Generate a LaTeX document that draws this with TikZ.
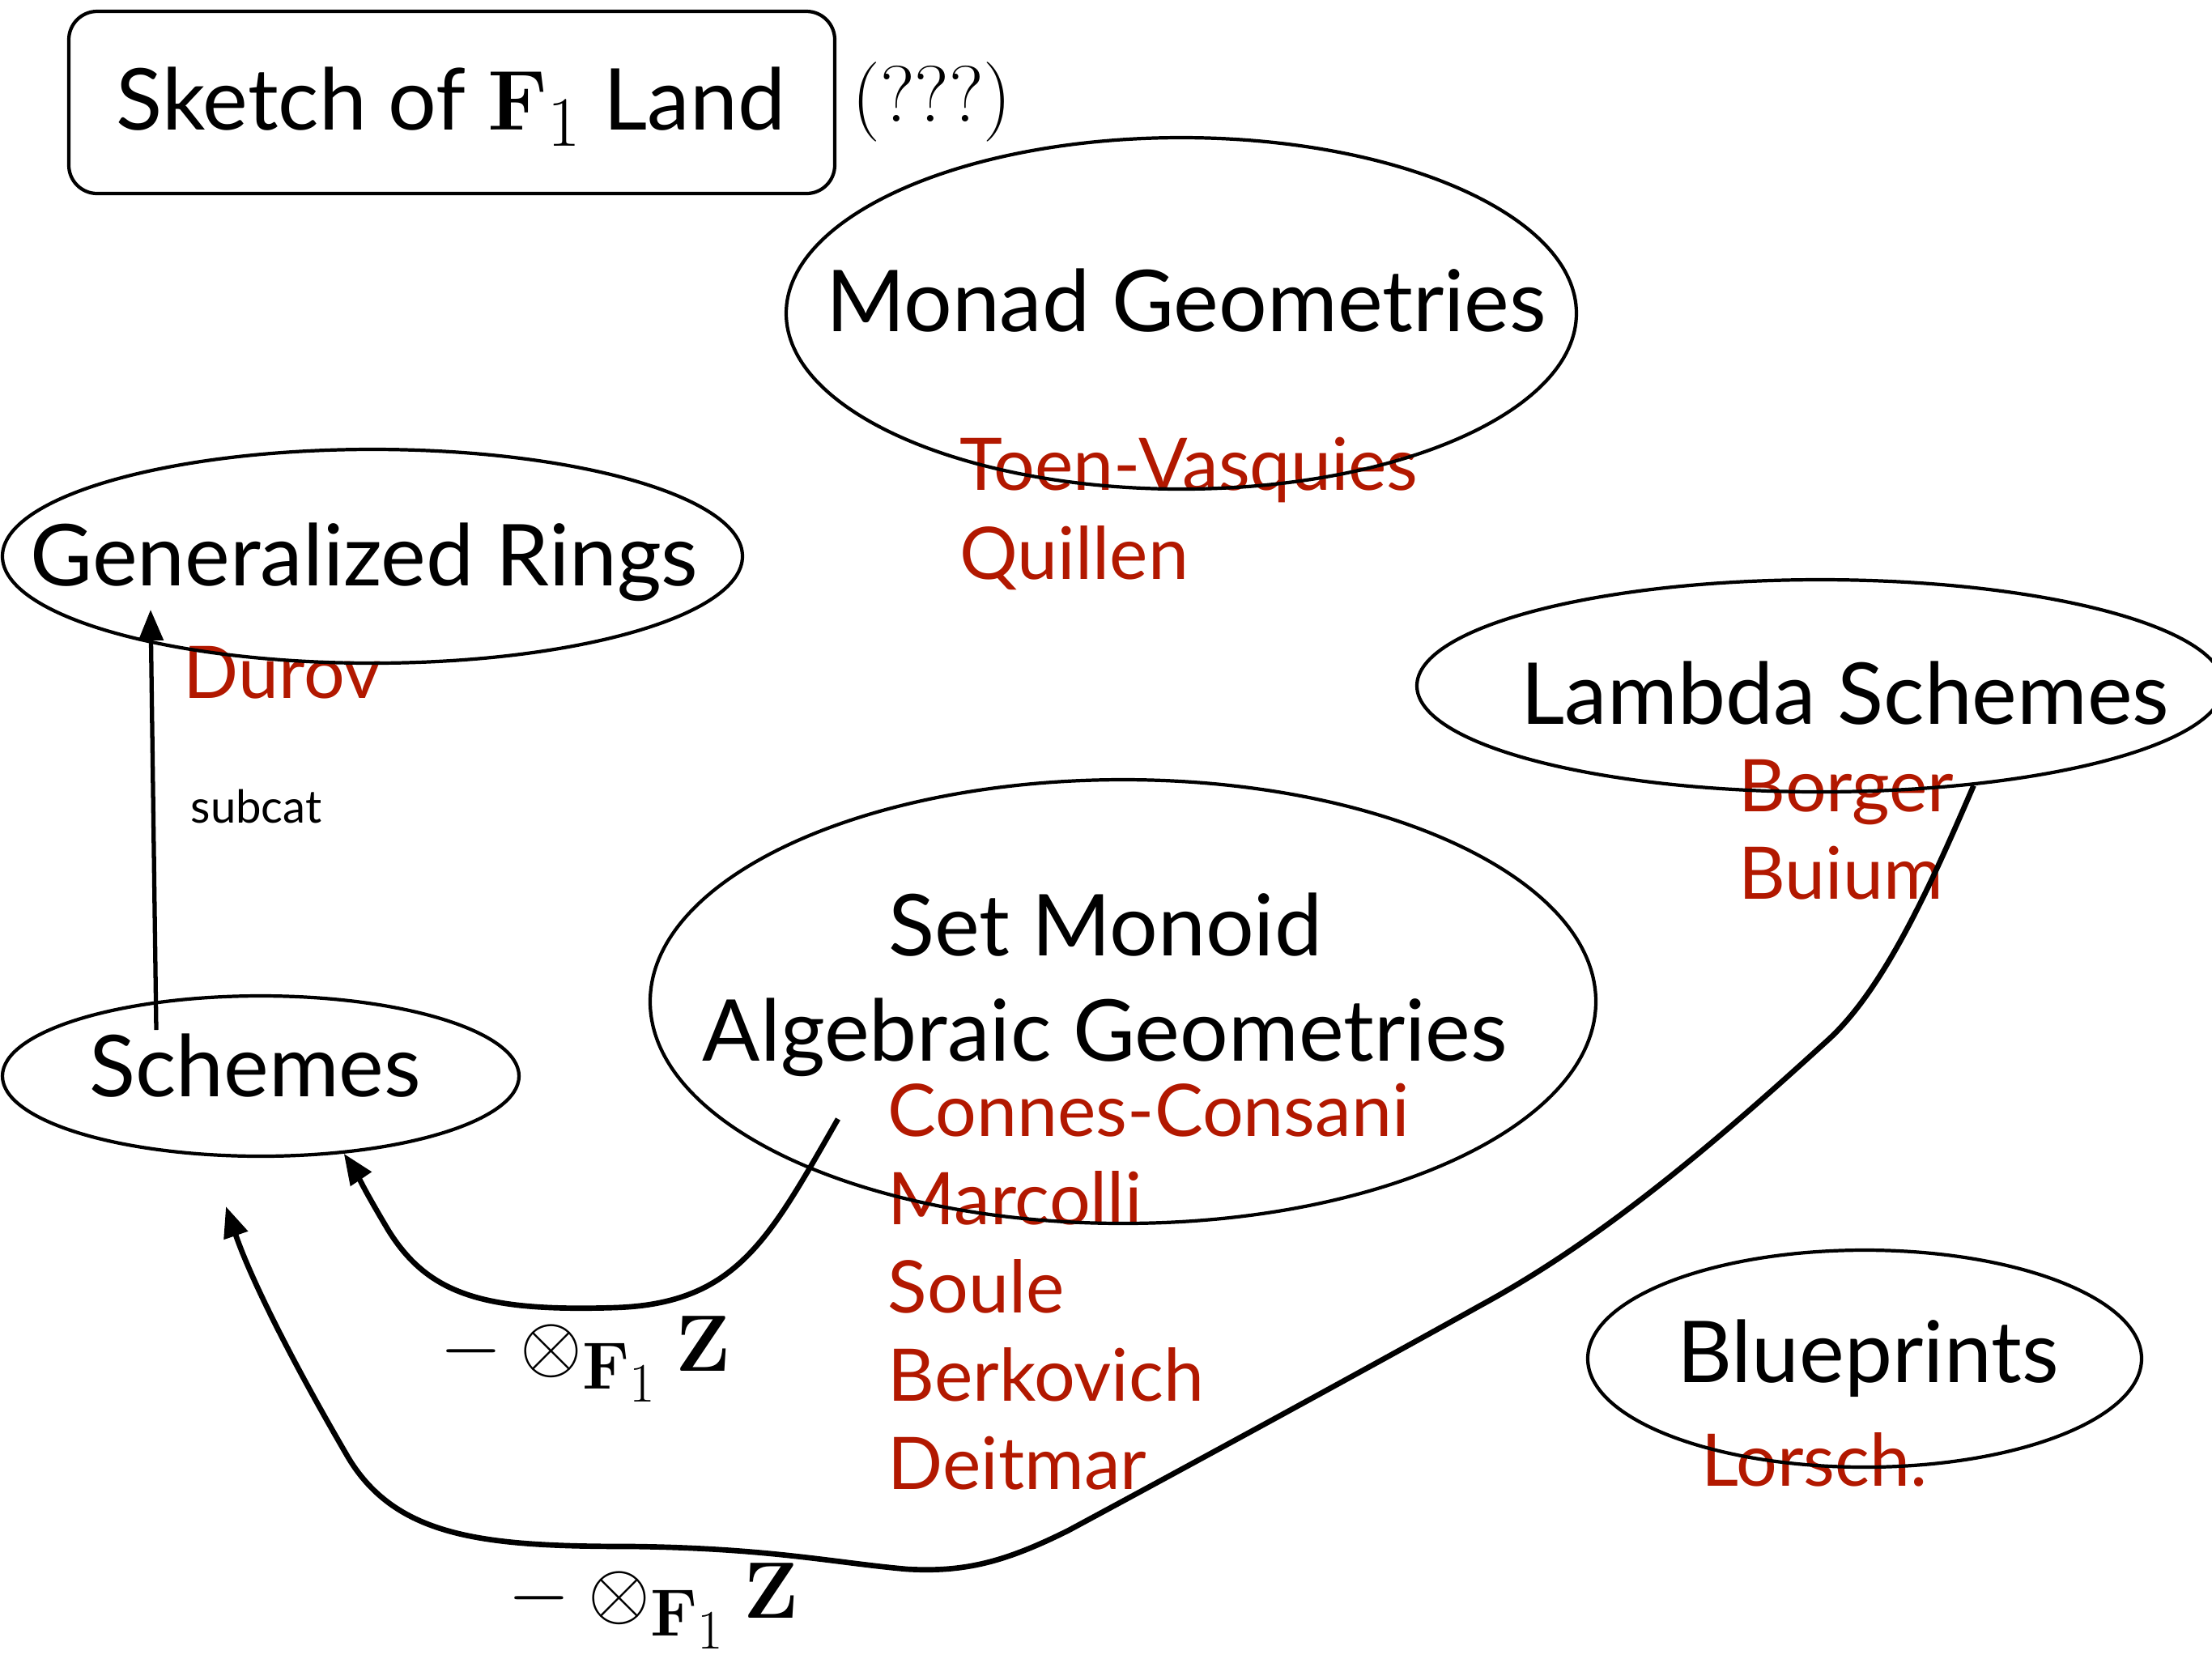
\documentclass[tikz,border=0pt]{standalone}
\usepackage[no-math]{fontspec}
\usepackage{graphicx}
\setsansfont{Lato}
\usetikzlibrary{shapes.geometric,arrows.meta}
\definecolor{namered}{RGB}{178,24,0}
\newcommand{\fone}{\mathbf{F}_1}

\begin{document}
\begin{tikzpicture}[
  region/.style={ellipse,draw,line width=1.2pt,inner sep=0pt},
  heading/.style={font=\sffamily\fontsize{30}{36}\selectfont,inner sep=0pt,anchor=base},
  who/.style={font=\sffamily\fontsize{25.5}{31}\selectfont,text=namered,inner sep=0pt,anchor=base west},
  functor/.style={line width=1.9pt,-{Triangle[length=3.8mm,width=3mm]}},
  tensor/.style={font=\fontsize{24.88}{30}\selectfont,inner sep=0pt,anchor=base,scale=1.13,transform shape}
]
\useasboundingbox (0,0) rectangle (27.32,-20.48);

% title
\node[draw,rounded corners=0.35cm,line width=1.2pt,minimum width=9.46cm,minimum height=2.25cm] (titlebox) at (5.58,-1.265) {};
\node[heading] (title) at (5.57,-1.60) {Sketch of \scalebox{1.2}{$\fone$} Land};
\node[font=\rmfamily\fontsize{28}{34}\selectfont,inner sep=0pt,anchor=base] (unsure) at (11.51,-1.50) {(???)};

% names first, the outlines go over them
\node[who] (toen) at (11.85,-6.05) {Toen-Vasquies};
\node[who] (quillen) at (11.85,-7.15) {Quillen};
\node[who] (durov) at (2.26,-8.62) {Durov};
\node[who] (borger) at (21.47,-10.02) {Borger};
\node[who] (buium) at (21.47,-11.10) {Buium};
\node[who] (lorsch) at (21.01,-18.35) {Lorsch.};
\foreach \who [count=\i] in {Connes-Consani,Marcolli,Soule,Berkovich,Deitmar} {
  \node[who] (f1\i) at (10.96,{-14.03-1.09*(\i-1)}) {\who};
}

\node[region,minimum width=9.76cm,minimum height=4.34cm] (monad) at (14.59,-3.87) {};
\node[heading] (monadtxt) at (14.65,-4.09) {Monad Geometries};
\node[region,minimum width=9.14cm,minimum height=2.64cm] (gring) at (4.60,-6.87) {};
\node[heading] (gringtxt) at (4.50,-7.23) {Generalized Rings};
\node[region,minimum width=6.38cm,minimum height=1.98cm] (schemes) at (3.22,-13.29) {};
\node[heading] (schemestxt) at (3.15,-13.54) {Schemes};
\node[region,minimum width=11.68cm,minimum height=5.48cm] (monoid) at (13.87,-12.37) {};
\node[heading] (monoidtxt) at (13.65,-11.80) {Set Monoid};
\node[heading] (monoidtxtb) at (13.65,-13.10) {Algebraic Geometries};
\node[region,minimum width=9.96cm,minimum height=2.62cm] (lambda) at (22.48,-8.47) {};
\node[heading] (lambdatxt) at (22.79,-8.94) {Lambda Schemes};
\node[region,minimum width=6.84cm,minimum height=2.68cm] (blue) at (23.03,-16.78) {};
\node[heading] (bluetxt) at (23.07,-17.07) {Blueprints};

% arrows
\coordinate (subcatfoot) at (1.93,-12.72);
\coordinate (subcattip) at (1.86,-7.53);
\coordinate (monoidfoot) at (10.35,-13.82);
\coordinate (lambdatip) at (2.79,-14.90);

\draw[functor,line width=1.5pt] (subcatfoot) -- (subcattip);
\node[font=\sffamily\fontsize{16}{19}\selectfont,inner sep=0pt,anchor=base west] (subcat) at (2.35,-10.16) {subcat};

\draw[functor] (monoidfoot) .. controls (9.5,-15.3) and (9.1,-16.1) .. (7.6,-16.15)
  .. controls (6.0,-16.2) and (5.3,-16.0) .. (4.8,-15.2)
  .. controls (4.5,-14.7) and (4.35,-14.4) .. (schemes.-43);
\node[tensor] (tensora) at (7.23,-16.93) {$-\otimes_{\fone}\mathbf{Z}$};

\draw[functor] (lambda.-33) .. controls (23.9,-10.8) and (23.3,-12.2) .. (22.56,-12.86)
  .. controls (21.2,-14.1) and (19.8,-15.3) .. (18.29,-16.12)
  .. controls (16.8,-16.95) and (14.5,-18.2) .. (13.2,-18.9)
  .. controls (12.4,-19.3) and (11.9,-19.42) .. (11.2,-19.38)
  .. controls (10.3,-19.3) and (9.5,-19.12) .. (7.8,-19.1)
  .. controls (6.0,-19.1) and (4.9,-19.0) .. (4.3,-18.0)
  .. controls (3.6,-16.8) and (3.1,-15.8) .. (lambdatip);
\node[tensor] (tensorb) at (8.07,-19.98) {$-\otimes_{\fone}\mathbf{Z}$};
\end{tikzpicture}
\end{document}
